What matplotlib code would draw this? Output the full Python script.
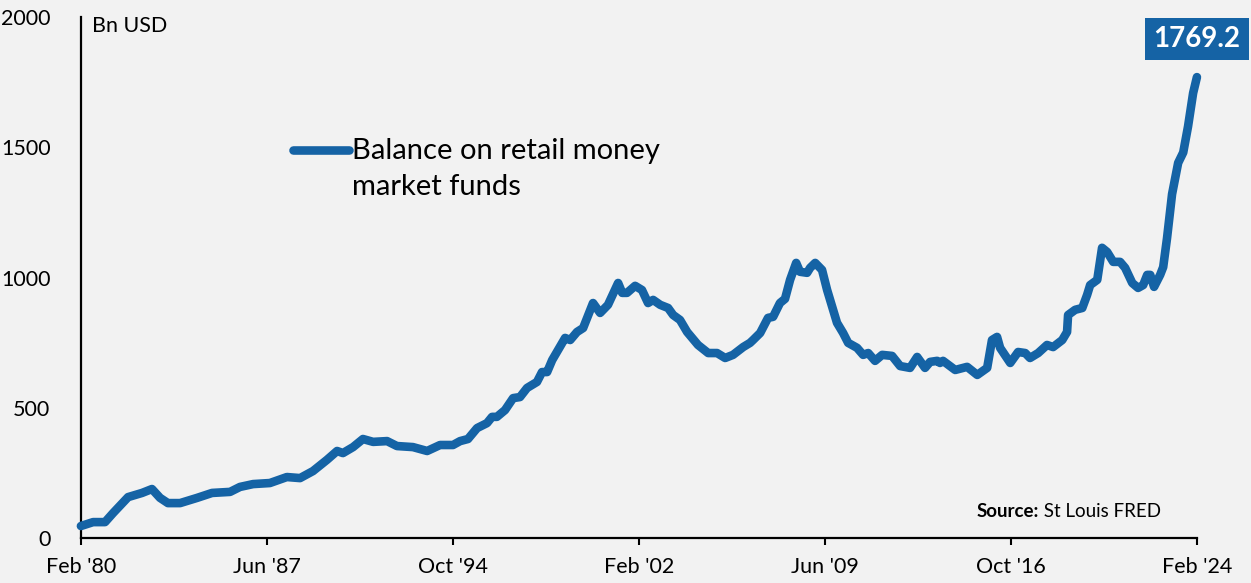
import matplotlib
matplotlib.use("Agg")
import matplotlib.pyplot as plt
from matplotlib.lines import Line2D

# Decimal years and balance in Bn USD
years = [1980.08, 1980.56, 1981.03, 1981.35, 1981.94, 1982.49, 1982.88, 1983.20, 1983.51, 1983.99,
         1984.66, 1985.25, 1985.96, 1986.35, 1986.87, 1987.53, 1988.20, 1988.72, 1989.23, 1989.78,
         1990.18, 1990.41, 1990.81, 1991.20, 1991.60, 1992.15, 1992.54, 1993.17, 1993.73, 1994.24,
         1994.75, 1995.03, 1995.34, 1995.70, 1996.09, 1996.29, 1996.48, 1996.80, 1997.12, 1997.39,
         1997.67, 1998.06, 1998.26, 1998.46, 1998.66, 1999.17, 1999.37, 1999.64, 1999.88, 2000.27,
         2000.55, 2000.86, 2001.26, 2001.42, 2001.61, 2001.93, 2002.20, 2002.44, 2002.64, 2002.92,
         2003.23, 2003.43, 2003.70, 2003.98, 2004.41, 2004.81, 2005.16, 2005.48, 2005.79, 2006.19,
         2006.46, 2006.58, 2006.86, 2007.17, 2007.37, 2007.64, 2007.84, 2008.04, 2008.28, 2008.43,
         2008.71, 2008.83, 2009.03, 2009.30, 2009.50, 2009.70, 2009.89, 2010.13, 2010.33, 2010.68,
         2010.92, 2011.12, 2011.39, 2011.67, 2012.06, 2012.38, 2012.77, 2013.05, 2013.36, 2013.56,
         2013.84, 2013.95, 2014.07, 2014.55, 2015.02, 2015.42, 2015.81, 2016.00, 2016.20, 2016.32,
         2016.72, 2017.03, 2017.31, 2017.50, 2017.82, 2018.17, 2018.41, 2018.77, 2018.96, 2019.00,
         2019.28, 2019.56, 2019.75, 2019.87, 2020.15, 2020.34, 2020.54, 2020.78, 2021.05, 2021.25,
         2021.53, 2021.76, 2021.96, 2022.12, 2022.24, 2022.39, 2022.63, 2022.75, 2022.90, 2023.10,
         2023.34, 2023.54, 2023.73, 2023.93, 2024.08]
values = [46, 61, 61, 96, 157, 173, 188, 154, 134, 134,
          154, 173, 177, 196, 207, 211, 234, 230, 257, 300,
          334, 326, 349, 380, 369, 372, 353, 349, 334, 357,
          357, 372, 380, 422, 441, 465, 465, 491, 537, 541,
          576, 599, 637, 637, 683, 768, 760, 791, 806, 902,
          864, 895, 979, 941, 941, 968, 952, 902, 914, 895,
          883, 856, 837, 791, 741, 710, 710, 691, 703, 733,
          749, 760, 787, 845, 849, 902, 918, 991, 1056, 1022,
          1018, 1037, 1056, 1029, 952, 887, 826, 787, 749, 730,
          703, 710, 680, 703, 699, 660, 653, 695, 653, 676,
          680, 672, 680, 645, 657, 626, 653, 760, 772, 730,
          672, 714, 710, 691, 710, 741, 733, 760, 791, 856,
          876, 883, 933, 971, 991, 1114, 1098, 1060, 1060, 1037,
          979, 960, 971, 1010, 1010, 964, 1010, 1040, 1150, 1320,
          1440, 1480, 1580, 1708, 1769.2]

tick_pos = [1980.083, 1987.417, 1994.75, 2002.083, 2009.417, 2016.75, 2024.083]
tick_labels = ["Feb '80", "Jun '87", "Oct '94", "Feb '02", "Jun '09", "Oct '16", "Feb '24"]
y_ticks = [0, 500, 1000, 1500, 2000]

last_label = "1769.2"

blue = "#1563a5"
bg = "#f2f2f2"
font = ["Lato", "DejaVu Sans"]
plt.rcParams["font.family"] = font

fig = plt.figure(figsize=(12.51, 5.83), dpi=100, facecolor=bg)
ax = fig.add_axes([81/1251, 45/583, 1116/1251, 521/583])
ax.set_facecolor(bg)

ax.plot(years, values, color=blue, lw=6.2, solid_capstyle="round",
        solid_joinstyle="round", clip_on=False, zorder=3)

ax.set_xlim(tick_pos[0], tick_pos[-1])
ax.set_ylim(0, 2000)
ax.set_xticks(tick_pos)
ax.set_xticklabels(tick_labels, fontsize=15.5)
ax.set_yticks(y_ticks)
ax.set_yticklabels([str(v) for v in y_ticks], fontsize=15.5)
ax.tick_params(axis="x", direction="out", length=5, width=1.5, pad=9, colors="black")
ax.tick_params(axis="y", length=0, pad=22)
for s in ["top", "right"]:
    ax.spines[s].set_visible(False)
for s in ["left", "bottom"]:
    ax.spines[s].set_linewidth(1.6)
    ax.spines[s].set_color("black")

ax.text(0.01, 0.983, "Bn USD", transform=ax.transAxes, fontsize=15.5, va="center", ha="left")

# Legend (manual)
ax.add_line(Line2D([0.1900, 0.2400], [0.7455, 0.7455], transform=ax.transAxes,
                   color=blue, lw=6.2, solid_capstyle="round"))
ax.text(0.2430, 0.7430, "Balance on retail money", transform=ax.transAxes,
        fontsize=21, va="center", ha="left")
ax.text(0.2430, 0.6740, "market funds", transform=ax.transAxes,
        fontsize=21, va="center", ha="left")

# Last value label
ax.annotate(last_label, xy=(years[-1], values[-1]), xytext=(0, 27.5),
            textcoords="offset points", ha="center", va="center",
            fontsize=20, fontweight="bold", color="white",
            bbox=dict(boxstyle="square,pad=0.3", fc=blue, ec="none"),
            annotation_clip=False, zorder=5)

# Source
ax.text(0.858, 0.05, "Source:", transform=ax.transAxes, fontsize=13.5,
        fontweight="bold", ha="right", va="center")
ax.text(0.858, 0.05, " St Louis FRED", transform=ax.transAxes, fontsize=13.5,
        ha="left", va="center")

fig.savefig("out.png", dpi=100, facecolor=bg)
